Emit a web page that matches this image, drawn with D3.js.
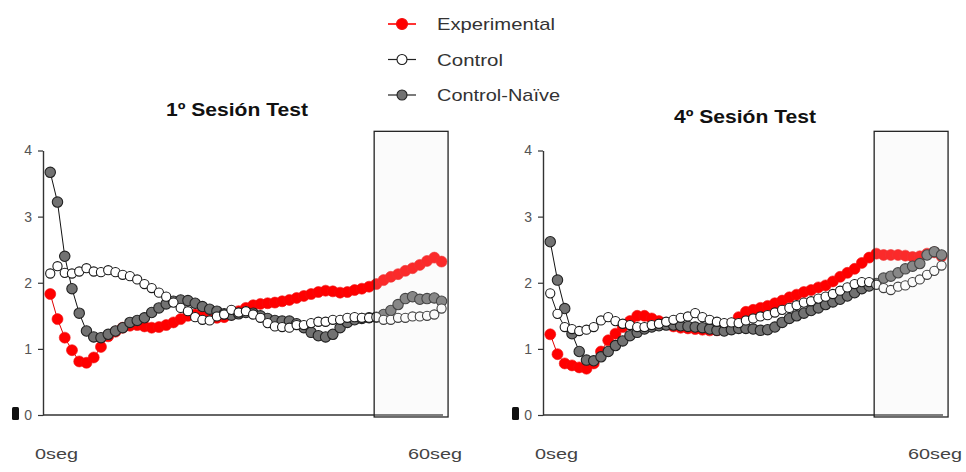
<!DOCTYPE html>
<html>
<head>
<meta charset="utf-8">
<script src="https://cdn.jsdelivr.net/npm/d3@7"></script>
<style>
  body { margin: 0; background: #fff; }
  text { font-family: "Liberation Sans", Arial, sans-serif; }
</style>
</head>
<body>
<div id="chart"></div>
<script>
// series values, one per second bin (55 bins over the 60 s test)
const EXP_S1 = [1.83,1.45,1.17,0.98,0.81,0.79,0.87,1.03,1.19,1.26,
                1.32,1.35,1.36,1.34,1.32,1.33,1.36,1.40,1.45,1.50,
                1.52,1.52,1.48,1.47,1.48,1.52,1.57,1.62,1.66,1.68,
                1.69,1.70,1.72,1.74,1.77,1.80,1.83,1.86,1.88,1.87,
                1.85,1.86,1.89,1.91,1.94,1.98,2.04,2.09,2.13,2.18,
                2.22,2.27,2.33,2.38,2.32];
const CTRL_S1 = [2.14,2.25,2.15,2.14,2.17,2.22,2.17,2.16,2.19,2.16,
                 2.12,2.10,2.05,1.98,1.92,1.85,1.79,1.70,1.62,1.57,
                 1.48,1.44,1.43,1.49,1.52,1.59,1.55,1.57,1.52,1.47,
                 1.39,1.34,1.33,1.32,1.36,1.36,1.39,1.41,1.41,1.44,
                 1.44,1.47,1.48,1.47,1.47,1.48,1.44,1.44,1.47,1.47,
                 1.49,1.49,1.50,1.52,1.61];
const NAIVE_S1 = [3.67,3.22,2.40,1.91,1.54,1.27,1.18,1.17,1.22,1.27,
                  1.32,1.40,1.43,1.47,1.55,1.62,1.68,1.72,1.74,1.73,
                  1.69,1.64,1.60,1.57,1.53,1.51,1.53,1.55,1.54,1.50,
                  1.46,1.43,1.42,1.42,1.38,1.32,1.25,1.20,1.18,1.22,
                  1.32,1.40,1.44,1.46,1.47,1.48,1.52,1.58,1.67,1.76,
                  1.79,1.75,1.76,1.77,1.72];

const EXP_S4 = [1.22,0.92,0.78,0.75,0.72,0.70,0.78,0.96,1.13,1.23,
                1.33,1.42,1.50,1.50,1.46,1.42,1.38,1.34,1.32,1.31,
                1.30,1.29,1.28,1.28,1.30,1.38,1.48,1.56,1.59,1.62,
                1.65,1.69,1.73,1.78,1.82,1.86,1.89,1.93,1.96,2.02,
                2.09,2.15,2.21,2.30,2.38,2.44,2.42,2.42,2.42,2.41,
                2.39,2.40,2.44,2.46,2.40];
const CTRL_S4 = [1.84,1.53,1.33,1.30,1.27,1.29,1.33,1.43,1.48,1.42,
                 1.38,1.36,1.33,1.33,1.36,1.38,1.41,1.44,1.47,1.49,
                 1.54,1.48,1.44,1.41,1.39,1.40,1.39,1.43,1.46,1.49,
                 1.51,1.55,1.59,1.62,1.66,1.70,1.72,1.76,1.79,1.83,
                 1.88,1.93,1.98,2.01,2.01,1.97,1.92,1.89,1.94,1.96,
                 2.01,2.05,2.12,2.18,2.26];
const NAIVE_S4 = [2.62,2.04,1.61,1.23,0.96,0.83,0.82,0.88,0.96,1.05,
                  1.12,1.20,1.25,1.30,1.33,1.35,1.36,1.36,1.35,1.34,
                  1.33,1.32,1.30,1.28,1.27,1.29,1.31,1.31,1.30,1.28,
                  1.29,1.33,1.40,1.46,1.50,1.54,1.58,1.62,1.67,1.71,
                  1.75,1.80,1.85,1.91,1.95,1.99,2.07,2.10,2.15,2.21,
                  2.25,2.29,2.42,2.47,2.42];

const Y_TICKS = [0, 1, 2, 3, 4];
const X_LABELS = ["0seg", "60seg"];
const TITLES = ["1º Sesión Test", "4º Sesión Test"];
const LEGEND = ["Experimental", "Control", "Control-Naïve"];
const WINDOW = [45.7, 55.9]; // highlighted last-seconds window, in bins

const STYLE = {
    "Experimental": {fill: "#ff0000", stroke: "#f01010", line: "#e00000", r: 5.5},
    "Control":      {fill: "#ffffff", stroke: "#1a1a1a", line: "#1a1a1a", r: 4.6},
    "Control-Naïve":{fill: "#727272", stroke: "#222222", line: "#111111", r: 5.2}
};

const SVG = d3.select("#chart")
                .append("svg")
                    .attr("width", 966)
                    .attr("height", 472);

// the source picture is stretched sideways, so texts get a fixed length
function wideText(sel, len) {
    return sel.attr("textLength", len).attr("lengthAdjust", "spacingAndGlyphs");
}

function drawPanel(x0, titleX, titleY, title, series) {
    const g = SVG.append("g");
    const x = d3.scaleLinear().domain([0, 55.2]).range([x0, x0 + 400]);
    const y = d3.scaleLinear().domain([0, 4]).range([415, 150.5]);

    // y axis
    const yAxis = g.append("g")
        .attr("transform", `translate(${x0},0)`)
        .call(d3.axisLeft(y).tickValues(Y_TICKS).tickFormat(d3.format("d"))
                .tickSize(5).tickPadding(6).tickSizeOuter(0));
    yAxis.select(".domain").attr("stroke", "#333").attr("stroke-width", 1.4);
    yAxis.selectAll(".tick line").attr("stroke", "#333").attr("stroke-width", 1.2);
    yAxis.selectAll(".tick text")
        .attr("fill", "#555")
        .style("font-size", "14px")
        .style("font-family", "'Liberation Sans', Arial, sans-serif");

    // odd little dark glyph next to the zero label
    g.append("rect")
        .attr("x", x0 - 31).attr("y", y(0) - 8)
        .attr("width", 7).attr("height", 13)
        .attr("rx", 1.5)
        .attr("fill", "#111");

    // x axis baseline
    g.append("line")
        .attr("x1", x0).attr("x2", x(55.2))
        .attr("y1", y(0)).attr("y2", y(0))
        .attr("stroke", "#333").attr("stroke-width", 1.5);

    wideText(g.append("text").attr("x", x0 - 8).attr("y", 459)
        .attr("fill", "#444").style("font-size", "15px").text(X_LABELS[0]), 43);
    wideText(g.append("text").attr("x", x(55.2) - 35).attr("y", 459)
        .attr("fill", "#444").style("font-size", "15px").text(X_LABELS[1]), 54);

    wideText(g.append("text").attr("x", titleX - 71).attr("y", titleY)
        .attr("fill", "#111")
        .style("font-size", "17.5px").style("font-weight", "bold")
        .text(title), 142);

    const line = d3.line().x((d, i) => x(i + 1)).y(d => y(d));

    // order: experimental at the back, control on top
    ["Experimental", "Control-Naïve", "Control"].forEach(name => {
        const s = STYLE[name];
        const vals = series[name];
        g.append("path")
            .datum(vals)
            .attr("d", line)
            .attr("fill", "none")
            .attr("stroke", s.line)
            .attr("stroke-width", 1);
        g.append("g").selectAll("circle")
            .data(vals)
            .enter()
            .append("circle")
                .attr("cx", (d, i) => x(i + 1))
                .attr("cy", d => y(d))
                .attr("r", s.r)
                .attr("fill", s.fill)
                .attr("stroke", s.stroke)
                .attr("stroke-width", name === "Experimental" ? 0.6 : 1.1);
    });

    // highlighted window box
    g.append("rect")
        .attr("x", x(WINDOW[0]))
        .attr("y", y(4.29))
        .attr("width", x(WINDOW[1]) - x(WINDOW[0]))
        .attr("height", y(-0.03) - y(4.29))
        .attr("fill", "rgba(235,235,235,0.18)")
        .attr("stroke", "#222")
        .attr("stroke-width", 1.3);
}

drawPanel(43, 237, 116, TITLES[0],
          {"Experimental": EXP_S1, "Control": CTRL_S1, "Control-Naïve": NAIVE_S1});
drawPanel(543, 745, 123, TITLES[1],
          {"Experimental": EXP_S4, "Control": CTRL_S4, "Control-Naïve": NAIVE_S4});

// legend
const LEGEND_LEN = [118, 66, 123];
const legend = SVG.append("g");
LEGEND.forEach((name, i) => {
    const s = STYLE[name];
    const ly = 24 + i * 35.5;
    legend.append("line")
        .attr("x1", 388).attr("x2", 416)
        .attr("y1", ly).attr("y2", ly)
        .attr("stroke", name === "Experimental" ? "#ff0000" : "#222")
        .attr("stroke-width", name === "Experimental" ? 1.6 : 1.2);
    legend.append("circle")
        .attr("cx", 402).attr("cy", ly)
        .attr("r", name === "Experimental" ? 5.5 : 5)
        .attr("fill", s.fill)
        .attr("stroke", s.stroke)
        .attr("stroke-width", 1.1);
    wideText(legend.append("text")
        .attr("x", 437).attr("y", ly + 6)
        .attr("fill", "#333")
        .style("font-size", "17px")
        .text(name), LEGEND_LEN[i]);
});
</script>
</body>
</html>
